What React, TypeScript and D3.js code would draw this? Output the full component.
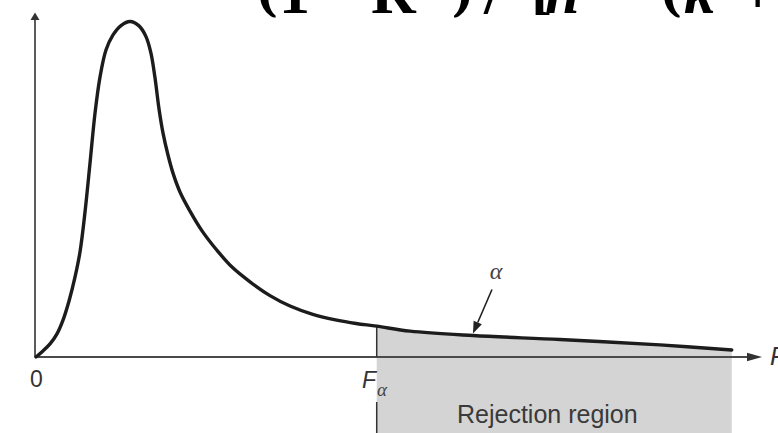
import React from "react";
import * as d3 from "d3";

const W = 778;
const H = 433;

// F statistic (horizontal units, 0..100) and density height (peak = 1)
const fValues = [
  0, 0.96, 1.93, 2.89, 3.72, 4.55, 5.37, 6.06, 6.75, 7.44, 8.13, 8.82, 9.64, 10.61, 11.71,
  12.95, 14.19, 15.15, 15.84, 16.39, 16.94, 17.49, 18.18, 18.87, 19.83, 21.21, 22.87, 24.89,
  27.0, 29.48, 32.23, 34.99, 38.02, 41.42, 44.08, 46.93, 51.52, 60.19, 72.18, 85.95, 95.83,
];
const density = [
  0, 0.018, 0.039, 0.069, 0.11, 0.167, 0.238, 0.313, 0.432, 0.578, 0.727, 0.835, 0.915, 0.96,
  0.988, 1.0, 0.987, 0.955, 0.905, 0.832, 0.74, 0.668, 0.602, 0.548, 0.492, 0.435, 0.376,
  0.319, 0.268, 0.224, 0.183, 0.152, 0.128, 0.11, 0.1, 0.092, 0.077, 0.064, 0.052, 0.036,
  0.021,
];
// critical value F_alpha and the point the alpha arrow points at
const criticalValue = 46.93;
const alphaPointer = 60.19;
const axisMax = 100;

export default function App() {
  const x = d3.scaleLinear().domain([0, axisMax]).range([36, 762]);
  const y = d3.scaleLinear().domain([0, 1]).range([357, 21.5]);

  const pts: [number, number][] = fValues.map((f, i) => [f, density[i]]);
  const tail = pts.filter((p) => p[0] >= criticalValue);

  const curve = d3.curveCatmullRom.alpha(0.5);
  const line = d3
    .line<[number, number]>()
    .x((d) => x(d[0]))
    .y((d) => y(d[1]))
    .curve(curve);
  const area = d3
    .area<[number, number]>()
    .x((d) => x(d[0]))
    .y0(y(0))
    .y1((d) => y(d[1]))
    .curve(curve);

  const x0 = x(0);
  const y0 = y(0);
  const xc = x(criticalValue);
  const xEnd = x(fValues[fValues.length - 1]);
  const yc = y(density[fValues.indexOf(criticalValue)]);

  const pIdx = fValues.indexOf(alphaPointer);
  const tipX = x(alphaPointer);
  const tipY = y(density[pIdx]) - 2;
  const startX = tipX + 19;
  const startY = tipY - 44;
  const ang = Math.atan2(tipY - startY, tipX - startX);
  const ah = 12;
  const aw = 4.5;
  const bx = tipX - ah * Math.cos(ang);
  const by = tipY - ah * Math.sin(ang);
  const head = [
    [tipX, tipY],
    [bx + aw * Math.sin(ang), by - aw * Math.cos(ang)],
    [bx - aw * Math.sin(ang), by + aw * Math.cos(ang)],
  ]
    .map((p) => p.join(","))
    .join(" ");

  const serif = "'Liberation Serif', 'Times New Roman', serif";
  const sans = "'Liberation Sans', Arial, Helvetica, sans-serif";

  return (
    <div style={{ position: "fixed", left: 0, top: 0, width: W, height: H, background: "#fff" }}>
      <svg width={W} height={H} viewBox={`0 0 ${W} ${H}`}>
        <defs>
          <clipPath id="headline-clip">
            <rect x={0} y={0} width={W} height={17.5} />
          </clipPath>
        </defs>

        {/* headline formula, lower part hidden behind the figure */}
        <g clipPath="url(#headline-clip)" fontFamily={serif} fontWeight="bold" fontSize={62} fill="#000">
          <text x={257} y={6}>(</text>
          <text x={279} y={13}>1</text>
          <text x={322} y={13}>−</text>
          <text x={371} y={13}>R</text>
          <text x={418} y={-12} fontSize={36}>2</text>
          <text x={452} y={6}>)</text>
          <text x={484} y={13}>/</text>
          <text x={531} y={7}>[</text>
          <text x={545} y={13} fontStyle="italic">n</text>
          <text x={600} y={13}>−</text>
          <text x={661} y={6}>(</text>
          <text x={684} y={13} fontStyle="italic">k</text>
          <text x={740} y={13}>+</text>
        </g>

        {/* rejection region */}
        <path d={area(tail) ?? ""} fill="#d4d4d4" />
        <rect x={xc} y={y0} width={xEnd - xc} height={H - y0} fill="#d4d4d4" />

        {/* axes */}
        <line x1={x0} y1={y0} x2={750} y2={y0} stroke="#4a4a4a" strokeWidth={1.8} />
        <polygon points={`762,${y0} 747,${y0 - 4.2} 747,${y0 + 4.2}`} fill="#333" />
        <line x1={35} y1={y0} x2={35} y2={18} stroke="#4a4a4a" strokeWidth={1.8} />
        <polygon points={`35,12.5 30.5,20 39.5,20`} fill="#333" />

        {/* critical value marker */}
        <line x1={xc} y1={yc} x2={xc} y2={y0} stroke="#333" strokeWidth={1.5} />
        <line x1={xc} y1={402} x2={xc} y2={H} stroke="#333" strokeWidth={1.5} />

        {/* density curve */}
        <path d={line(pts) ?? ""} fill="none" stroke="#1c1c1c" strokeWidth={3.4} strokeLinecap="round" strokeLinejoin="round" />

        {/* alpha pointer */}
        <line x1={startX} y1={startY} x2={bx} y2={by} stroke="#222" strokeWidth={1.6} />
        <polygon points={head} fill="#222" />
        <text x={startX + 4} y={startY - 11} fontFamily={serif} fontStyle="italic" fontSize={24} fill="#444" textAnchor="middle">
          α
        </text>

        {/* labels */}
        <text x={36.5} y={387} fontFamily={sans} fontSize={23} fill="#333" textAnchor="middle">
          0
        </text>
        <text x={362} y={388} fontFamily={sans} fontStyle="italic" fontSize={23} fill="#333">
          F
        </text>
        <text x={377} y={396} fontFamily={serif} fontStyle="italic" fontSize={19} fill="#444">
          α
        </text>
        <text x={770} y={365} fontFamily={sans} fontStyle="italic" fontSize={25} fill="#333">
          F
        </text>
        <text x={457} y={423} fontFamily={sans} fontSize={25} fill="#3a3a3a">
          Rejection region
        </text>
      </svg>
    </div>
  );
}
